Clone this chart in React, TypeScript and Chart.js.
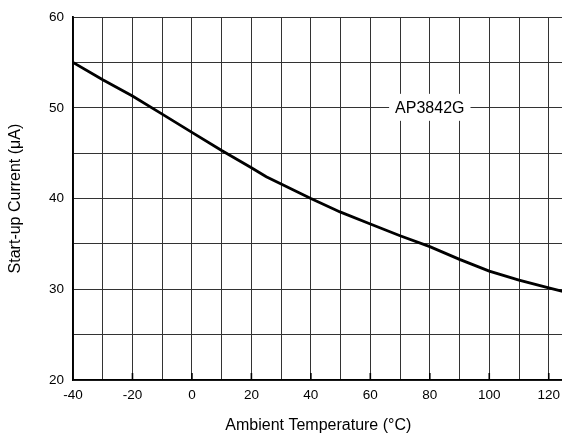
import React, { useEffect, useRef } from "react";
import { Chart, registerables } from "chart.js";

Chart.register(...registerables);

const temperatures = [-40, -30, -20, -10, 0, 10, 20, 25, 30, 40, 50, 60, 70, 80, 90, 100, 110, 120, 125];
const startupCurrent = [55.0, 53.1, 51.3, 49.3, 47.3, 45.3, 43.4, 42.4, 41.6, 40.0, 38.5, 37.2, 35.9, 34.7, 33.3, 32.0, 31.0, 30.15, 29.75];
const seriesLabel = "AP3842G";
const xTitle = "Ambient Temperature (\u00B0C)";
const yTitle = "Start-up Current (\u03BCA)";
const labelAt = { x: 80, y: 50 };

const FONT = "'Liberation Sans', Arial, Helvetica, sans-serif";

const annotationPlugin = {
  id: "seriesAnnotation",
  afterDatasetsDraw(chart: any) {
    const { ctx, scales } = chart;
    const cx = scales.x.getPixelForValue(labelAt.x);
    const cy = scales.y.getPixelForValue(labelAt.y);
    ctx.save();
    ctx.font = `16px ${FONT}`;
    const w = ctx.measureText(seriesLabel).width + 12;
    const h = 27;
    ctx.fillStyle = "#ffffff";
    ctx.fillRect(cx - w / 2, cy - h / 2 - 0.5, w, h);
    ctx.fillStyle = "#000000";
    ctx.textAlign = "center";
    ctx.textBaseline = "middle";
    ctx.fillText(seriesLabel, cx, cy + 0.5);
    ctx.restore();
  },
};

const innerTickPlugin = {
  id: "innerTicks",
  afterDraw(chart: any) {
    const { ctx, scales, chartArea } = chart;
    ctx.save();
    ctx.strokeStyle = "#000";
    ctx.lineWidth = 1.6;
    scales.x.ticks.forEach((t: any) => {
      if (t.value % 20 === 0 && t.value > -40) {
        const px = scales.x.getPixelForValue(t.value);
        ctx.beginPath();
        ctx.moveTo(px, chartArea.bottom);
        ctx.lineTo(px, chartArea.bottom - 7);
        ctx.stroke();
      }
    });
    ctx.restore();
  },
};

export default function App() {
  const ref = useRef<HTMLCanvasElement>(null);

  useEffect(() => {
    if (!ref.current) return;
    const chart = new Chart(ref.current, {
      type: "line",
      data: {
        datasets: [
          {
            label: seriesLabel,
            data: temperatures.map((t, i) => ({ x: t, y: startupCurrent[i] })),
            borderColor: "#000",
            borderWidth: 2.8,
            pointRadius: 0,
            tension: 0,
            fill: false,
          },
        ],
      },
      options: {
        animation: false,
        responsive: false,
        devicePixelRatio: 1,
        layout: { padding: { top: 12, left: 0, right: 0, bottom: 0 } },
        plugins: { legend: { display: false }, tooltip: { enabled: false } },
        scales: {
          x: {
            type: "linear",
            min: -40,
            max: 125,
            afterFit: (s: any) => {
              s.height = 59;
            },
            ticks: {
              stepSize: 10,
              includeBounds: false,
              autoSkip: false,
              maxRotation: 0,
              padding: 7,
              color: "#000",
              font: { family: FONT, size: 13.5 },
              callback: (v: any) => (Number(v) % 20 === 0 ? String(v) : ""),
            },
            grid: { color: "#333", lineWidth: 1, drawTicks: false },
            border: { color: "#000", width: 1.6 },
            title: {
              display: true,
              text: xTitle,
              color: "#000",
              font: { family: FONT, size: 16 },
              padding: { top: 0, bottom: 4 },
            },
          },
          y: {
            min: 20,
            max: 60,
            afterFit: (s: any) => {
              s.width = 73;
            },
            ticks: {
              stepSize: 5,
              autoSkip: false,
              padding: 9,
              color: "#000",
              font: { family: FONT, size: 13.5 },
              callback: (v: any) => (Number(v) % 10 === 0 ? String(v) : ""),
            },
            grid: { color: "#333", lineWidth: 1, drawTicks: false },
            border: { color: "#000", width: 1.8 },
            title: {
              display: true,
              text: yTitle,
              color: "#000",
              font: { family: FONT, size: 16 },
              padding: { top: 6, bottom: 0 },
            },
          },
        },
      },
      plugins: [annotationPlugin, innerTickPlugin],
    } as any);
    return () => chart.destroy();
  }, []);

  return (
    <div style={{ position: "absolute", left: 0, top: 0, width: 562, height: 439, overflow: "hidden", background: "#fff" }}>
      <canvas ref={ref} width={567} height={439} style={{ width: 567, height: 439, display: "block" }} />
    </div>
  );
}
